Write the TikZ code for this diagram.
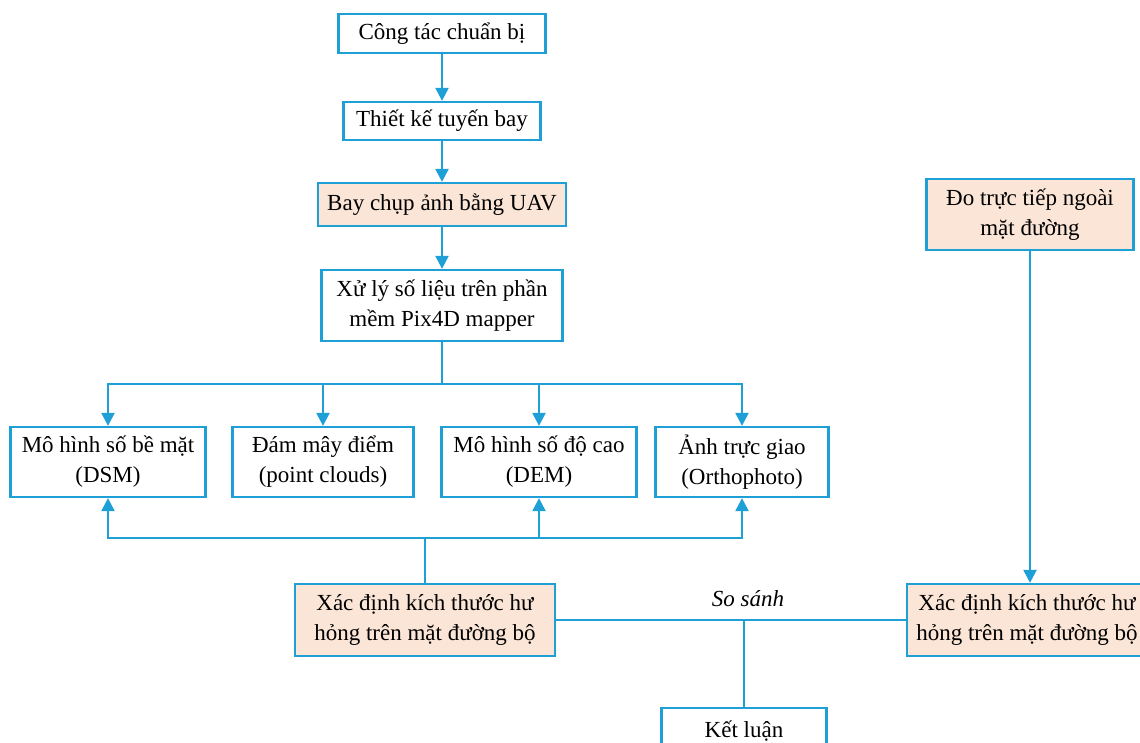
\documentclass[tikz,border=0pt]{standalone}
\usepackage{fontspec}
\setmainfont{Liberation Serif}
\usetikzlibrary{arrows.meta}
\definecolor{lineblue}{RGB}{30,160,214}
\definecolor{peach}{RGB}{251,229,214}
\tikzset{
  box/.style={draw=lineblue, line width=2.3pt, fill=white, align=center, inner sep=0pt,
    font=\fontsize{23}{30}\selectfont, text=black},
  pbox/.style={box, fill=peach},
  conn/.style={draw=lineblue, line width=2.3pt},
  arr/.style={conn, -{Triangle[width=13pt,length=13pt]}},
}
\begin{document}
\begin{tikzpicture}[x=1pt,y=-1pt]
\useasboundingbox (0,0) rectangle (1140,742);
\clip (0,0) rectangle (1140,742);
% main column
\node[box, minimum width=207pt, minimum height=39pt] (c1) at (442,33.5) {Công tác chuẩn bị};
\node[box, minimum width=197pt, minimum height=38pt] (c2) at (442,121) {Thiết kế tuyến bay};
\node[pbox, minimum width=248pt, minimum height=43pt] (c3) at (442,204.5) {Bay chụp ảnh bằng UAV};
\node[box, minimum width=241pt, minimum height=71pt] (c4) at (442,305.5) {Xử lý số liệu trên phần\\mềm Pix4D mapper};
% products row
\node[box, minimum width=195pt, minimum height=70pt] (dsm) at (108,462) {Mô hình số bề mặt\\(DSM)};
\node[box, minimum width=181pt, minimum height=70pt] (pc) at (323,462) {Đám mây điểm\\(point clouds)};
\node[box, minimum width=195pt, minimum height=70pt] (dem) at (539,462) {Mô hình số độ cao\\(DEM)};
\node[box, minimum width=173pt, minimum height=70pt] (ort) at (742,462) {Ảnh trực giao\\(Orthophoto)};
% bottom
\node[pbox, minimum width=260pt, minimum height=72pt] (xd) at (425,620) {Xác định kích thước hư\\hỏng trên mặt đường bộ};
\node[pbox, minimum width=240pt, minimum height=72pt] (xr) at (1027,620) {Xác định kích thước hư\\hỏng trên mặt đường bộ};
\node[pbox, minimum width=207pt, minimum height=71pt] (do) at (1030,214.5) {Đo trực tiếp ngoài\\mặt đường};
\node[box, minimum width=165pt, minimum height=46pt] (kl) at (744,731) {Kết luận};
\node[font=\fontsize{23}{26}\selectfont\itshape] (ss) at (748,599) {So sánh};
% connectors
\draw[arr] (c1.south) -- (c2.north);
\draw[arr] (c2.south) -- (c3.north);
\draw[arr] (c3.south) -- (c4.north);
\coordinate (br) at (442,384);
\draw[conn] (c4.south) -- (br);
\draw[arr] (br) -| (dsm.north);
\draw[arr] (br) -| (ort.north);
\draw[arr] (pc.north |- br) -- (pc.north);
\draw[arr] (dem.north |- br) -- (dem.north);
\coordinate (bot) at (425,538);
\draw[conn] (xd.north) -- (bot);
\draw[arr] (bot) -| (dsm.south);
\draw[arr] (bot) -| (ort.south);
\draw[arr] (dem.south |- bot) -- (dem.south);
\draw[conn] (xd.east) -- (xr.west);
\draw[conn] (kl.north |- xd.east) -- (kl.north);
\draw[arr] (do.south) -- (do.south |- xr.north);
\end{tikzpicture}
\end{document}
